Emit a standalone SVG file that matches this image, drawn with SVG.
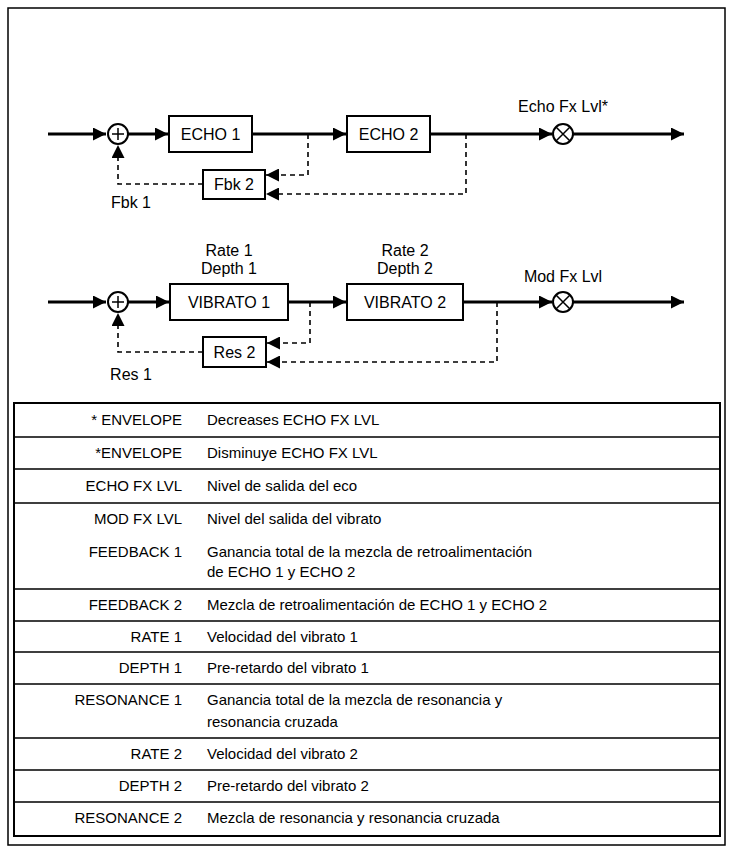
<svg xmlns="http://www.w3.org/2000/svg" width="734" height="853" viewBox="0 0 734 853">
<defs>
<marker id="ah" viewBox="0 0 10 10" refX="10" refY="5" markerWidth="13" markerHeight="13" markerUnits="userSpaceOnUse" orient="auto"><path d="M0,0 L10,5 L0,10 z" fill="#000"/></marker>
</defs>
<style>
text{font-family:"Liberation Sans",Arial,sans-serif;font-size:15px;fill:#000}
.d text{font-size:16px}
.box{fill:#fff;stroke:#000;stroke-width:2}
.sig{fill:none;stroke:#000;stroke-width:3}
.dash{fill:none;stroke:#000;stroke-width:1.6;stroke-dasharray:5,4}
.c{text-anchor:middle}
.r{text-anchor:end}
.grid{stroke:#000;stroke-width:1.5}
</style>
<rect x="8" y="8" width="717" height="837" fill="#fff" stroke="#000" stroke-width="1.5"/>
<g id="connectors">
<path class="sig" d="M48,134 H106" marker-end="url(#ah)"/>
<path class="sig" d="M128,134 H168" marker-end="url(#ah)"/>
<path class="sig" d="M252,134 H346" marker-end="url(#ah)"/>
<path class="sig" d="M430,134 H552" marker-end="url(#ah)"/>
<path class="sig" d="M573,134 H684" marker-end="url(#ah)"/>
<path class="dash" d="M308,134 V175 H266" marker-end="url(#ah)"/>
<path class="dash" d="M466,134 V194 H266" marker-end="url(#ah)"/>
<path class="dash" d="M203,184 H118 V145" marker-end="url(#ah)"/>
<path class="sig" d="M48,302 H106" marker-end="url(#ah)"/>
<path class="sig" d="M128,302 H169" marker-end="url(#ah)"/>
<path class="sig" d="M288,302 H346" marker-end="url(#ah)"/>
<path class="sig" d="M463,302 H552" marker-end="url(#ah)"/>
<path class="sig" d="M573,302 H684" marker-end="url(#ah)"/>
<path class="dash" d="M310,302 V343 H267" marker-end="url(#ah)"/>
<path class="dash" d="M497,302 V362 H267" marker-end="url(#ah)"/>
<path class="dash" d="M203,352 H118 V313" marker-end="url(#ah)"/>
</g>
<g class="d">
<g id="sum1"><circle cx="118" cy="134" r="10" class="box"/><path d="M112,134 H124 M118,128 V140" stroke="#000" stroke-width="1.5"/></g>
<g id="echo1"><rect class="box" x="169" y="116" width="83" height="36"/><text class="c" x="210.5" y="140">ECHO 1</text></g>
<g id="echo2"><rect class="box" x="347" y="116" width="83" height="36"/><text class="c" x="388.5" y="140">ECHO 2</text></g>
<g id="fbk2"><rect class="box" x="203" y="170" width="62" height="29"/><text class="c" x="234" y="190">Fbk 2</text></g>
<g id="fbk1"><text class="c" x="131" y="208">Fbk 1</text></g>
<g id="echolvl"><circle cx="563" cy="134" r="10" class="box"/><path d="M556,127 L570,141 M570,127 L556,141" stroke="#000" stroke-width="1.5"/><text class="c" x="563" y="112">Echo Fx Lvl*</text></g>
<g id="sum2"><circle cx="118" cy="302" r="10" class="box"/><path d="M112,302 H124 M118,296 V308" stroke="#000" stroke-width="1.5"/></g>
<g id="vib1"><rect class="box" x="170" y="284" width="118" height="36"/><text class="c" x="229" y="308">VIBRATO 1</text><text class="c" x="229" y="256">Rate 1</text><text class="c" x="229" y="274">Depth 1</text></g>
<g id="vib2"><rect class="box" x="347" y="284" width="116" height="36"/><text class="c" x="405" y="308">VIBRATO 2</text><text class="c" x="405" y="256">Rate 2</text><text class="c" x="405" y="274">Depth 2</text></g>
<g id="res2"><rect class="box" x="203" y="337" width="63" height="30"/><text class="c" x="234.5" y="358">Res 2</text></g>
<g id="res1"><text class="c" x="131" y="380">Res 1</text></g>
<g id="modlvl"><circle cx="563" cy="302" r="10" class="box"/><path d="M556,295 L570,309 M570,295 L556,309" stroke="#000" stroke-width="1.5"/><text class="c" x="563" y="282">Mod Fx Lvl</text></g>
</g>
<g id="table">
<rect x="14" y="403" width="706" height="433" fill="#fff" stroke="#000" stroke-width="2"/>
<path class="grid" d="M14,437 H720 M14,469 H720 M14,503 H720 M14,589 H720 M14,621 H720 M14,652 H720 M14,684 H720 M14,738 H720 M14,770 H720 M14,802 H720"/>
<text class="r" x="182" y="425">* ENVELOPE</text><text x="207" y="425">Decreases ECHO FX LVL</text>
<text class="r" x="182" y="458">*ENVELOPE</text><text x="207" y="458">Disminuye ECHO FX LVL</text>
<text class="r" x="182" y="491">ECHO FX LVL</text><text x="207" y="491">Nivel de salida del eco</text>
<text class="r" x="182" y="524">MOD FX LVL</text><text x="207" y="524">Nivel del salida del vibrato</text>
<text class="r" x="182" y="557">FEEDBACK 1</text><text x="207" y="557">Ganancia total de la mezcla de retroalimentación</text><text x="207" y="577">de ECHO 1 y ECHO 2</text>
<text class="r" x="182" y="610">FEEDBACK 2</text><text x="207" y="610">Mezcla de retroalimentación de ECHO 1 y ECHO 2</text>
<text class="r" x="182" y="642">RATE 1</text><text x="207" y="642">Velocidad del vibrato 1</text>
<text class="r" x="182" y="673">DEPTH 1</text><text x="207" y="673">Pre-retardo del vibrato 1</text>
<text class="r" x="182" y="705">RESONANCE 1</text><text x="207" y="705">Ganancia total de la mezcla de resonancia y</text><text x="207" y="727">resonancia cruzada</text>
<text class="r" x="182" y="759">RATE 2</text><text x="207" y="759">Velocidad del vibrato 2</text>
<text class="r" x="182" y="791">DEPTH 2</text><text x="207" y="791">Pre-retardo del vibrato 2</text>
<text class="r" x="182" y="823">RESONANCE 2</text><text x="207" y="823">Mezcla de resonancia y resonancia cruzada</text>
</g>
</svg>
